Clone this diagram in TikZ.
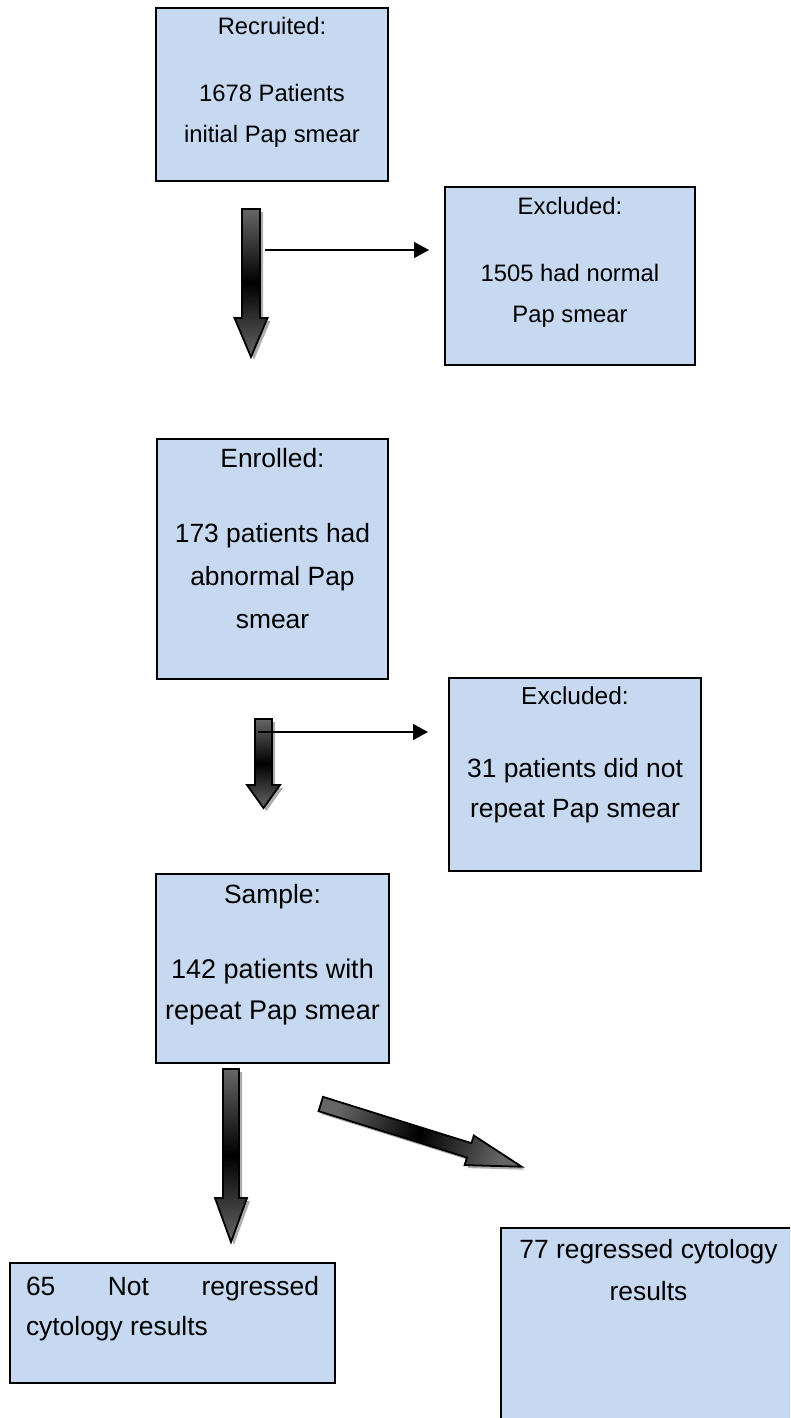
\documentclass[tikz,border=0pt]{standalone}
\usepackage{fontspec}
\setmainfont{Liberation Sans}
\usetikzlibrary{arrows.meta,positioning,calc,shadows}
\definecolor{boxblue}{HTML}{C6D9F1}
\definecolor{arrgray}{HTML}{666666}

% block arrow: [extra style] {from} {to} {shaft half width} {head half width} {head length}
\newcommand{\blockarrow}[6][]{%
  \coordinate (#2hb) at ($(#3)!#6pt!(#2)$);
  \path[blockarr, #1] ($(#2)!#4pt!90:(#3)$) -- ($(#2hb)!#4pt!90:(#3)$)
    -- ($(#2hb)!#5pt!90:(#3)$) -- (#3) -- ($(#2hb)!#5pt!-90:(#3)$)
    -- ($(#2hb)!#4pt!-90:(#3)$) -- ($(#2)!#4pt!-90:(#3)$) -- cycle;}

\begin{document}
\begin{tikzpicture}[x=1pt, y=-1pt,
    flowbox/.style={draw=black, line width=2pt, fill=boxblue, inner sep=0pt, anchor=north west},
    thinarr/.style={-{Triangle[length=15pt,width=16pt]}, line width=1.6pt},
    blockarr/.style={draw=black, line width=1.8pt, top color=arrgray, bottom color=arrgray,
                     middle color=black,
                     drop shadow={shadow xshift=3pt, shadow yshift=-3pt, fill=black!40, opacity=.8}}
  ]
  \useasboundingbox (0,0) rectangle (790,1418);
  \clip (0,0) rectangle (790,1418);

  % boxes
  \node[flowbox] (recruit) at (155,7) {\parbox[c][173pt][t]{232pt}{\centering
      \fontsize{23.8}{41}\selectfont\vspace*{9pt}Recruited:\\[26pt]1678 Patients\\initial Pap smear}};
  \node[flowbox] (excl1) at (444,186) {\parbox[c][178pt][t]{250pt}{\centering
      \fontsize{23.8}{41}\selectfont\vspace*{10pt}Excluded:\\[26pt]1505 had normal\\Pap smear}};
  \node[flowbox] (enrol) at (156,438) {\parbox[c][240pt][t]{231pt}{\centering
      \fontsize{26.4}{43}\selectfont\vspace*{9.7pt}Enrolled:\\[31.5pt]173 patients had\\abnormal Pap\\smear}};
  \node[flowbox] (excl2) at (448,677) {\parbox[c][193pt][t]{252pt}{\centering
      \fontsize{24.5}{40}\selectfont\vspace*{8.9pt}Excluded:\\[32.7pt]%
      \fontsize{26.4}{40}\selectfont 31 patients did not\\repeat Pap smear}};
  \node[flowbox] (sample) at (155,873) {\parbox[c][189pt][t]{233pt}{\centering
      \fontsize{26.4}{41}\selectfont\vspace*{10.2pt}Sample:\\[34pt]%
      \fontsize{27}{41}\selectfont 142 patients with\\repeat Pap smear}};
  \node[flowbox] (notreg) at (9,1262) {\parbox[c][120pt][t]{325pt}{\leftskip=16pt\rightskip=16pt
      \fontsize{26.4}{40}\selectfont\vspace*{13pt}65\hfill Not\hfill regressed\\cytology results}};
  \node[flowbox] (reg) at (500,1227) {\parbox[c][210pt][t]{300pt}{\centering
      \leftskip=0pt plus 1fil\rightskip=5pt plus 1fil
      \fontsize{26.4}{42}\selectfont\vspace*{11pt}77 regressed cytology\\results}};

  % block arrows
  \coordinate (a1s) at (251,209);
  \coordinate (a1e) at (251,357);
  \blockarrow{a1s}{a1e}{9}{16.5}{39}
  \coordinate (a2s) at (263.5,719);
  \coordinate (a2e) at (263.5,808);
  \blockarrow{a2s}{a2e}{8.5}{16.5}{23}
  \coordinate (a3s) at (231,1069);
  \coordinate (a3e) at (231,1242);
  \blockarrow{a3s}{a3e}{8}{16}{44}
  \coordinate (a4s) at (320.8,1104);
  \coordinate (a4e) at (521.7,1166.7);
  \blockarrow[shading angle=72.7]{a4s}{a4e}{7.5}{15.5}{55}

  % side arrows
  \coordinate (t1) at (265,250);
  \draw[thinarr, shorten >=15pt] (t1) -- (t1 -| excl1.west);
  \coordinate (t2) at (258,732);
  \draw[thinarr, shorten >=20pt] (t2) -- (t2 -| excl2.west);
\end{tikzpicture}
\end{document}
